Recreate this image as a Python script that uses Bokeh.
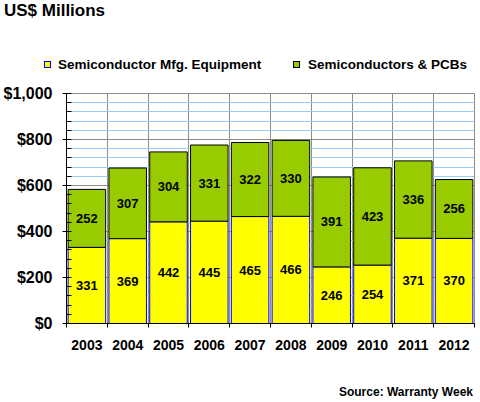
from bokeh.plotting import figure
from bokeh.models import (FixedTicker, NumeralTickFormatter, ColumnDataSource, Div)
from bokeh.layouts import column
from bokeh.core.properties import value
from bokeh.embed import file_html
from bokeh.resources import INLINE

# ---- data ----
years = ["2003", "2004", "2005", "2006", "2007", "2008", "2009", "2010", "2011", "2012"]
equipment = [331, 369, 442, 445, 465, 466, 246, 254, 371, 370]
semis_pcbs = [252, 307, 304, 331, 322, 330, 391, 423, 336, 256]
y_ticks = [0, 200, 400, 600, 800, 1000]
y_minor = [v for v in range(0, 1001, 40) if v % 200 != 0]
series_names = ["Semiconductor Mfg. Equipment", "Semiconductors & PCBs"]
title_text = "US$ Millions"
source_text = "Source: Warranty Week"

FONT = "Liberation Sans"
YELLOW = "#FFFF00"
GREEN = "#99CC00"
GRID_GRAY = "#8C8C8C"
GRID_BLUE = "#99CCFF"

n = len(years)
xs = [i + 0.5 for i in range(n)]
totals = [a + b for a, b in zip(equipment, semis_pcbs)]
src = ColumnDataSource(dict(
    x=xs, eq=equipment, se=semis_pcbs, tot=totals,
    eq_mid=[a / 2 for a in equipment],
    se_mid=[a + b / 2 for a, b in zip(equipment, semis_pcbs)],
    eq_lbl=[str(a) for a in equipment],
    se_lbl=[str(b) for b in semis_pcbs],
))

W = 480
HEAD_H = 80          # header div (title + legend)
FOOT_H = 42          # footer div (source)
FL, FR = 63, 474     # frame left/right
TOP_PAD = 93 - HEAD_H
FRAME_H = 230
BOT_PAD = 402 - FOOT_H - HEAD_H - TOP_PAD - FRAME_H
FIG_H = TOP_PAD + FRAME_H + BOT_PAD

p = figure(width=W, height=FIG_H, x_range=(0, n), y_range=(0, 1000),
           output_backend="svg", toolbar_location=None,
           min_border_left=FL, min_border_right=W - FR,
           min_border_top=TOP_PAD, min_border_bottom=BOT_PAD)
p.background_fill_color = "white"
p.border_fill_color = "white"
p.outline_line_color = GRID_GRAY

r1 = p.vbar(x="x", bottom=0, top="eq", width=0.92, fill_color=YELLOW,
            line_color="#0000FF", line_width=1, source=src)
r2 = p.vbar(x="x", bottom="eq", top="tot", width=0.92, fill_color=GREEN,
            line_color="black", line_width=1, source=src)

for col, lbl in (("eq_mid", "eq_lbl"), ("se_mid", "se_lbl")):
    p.text(x="x", y=col, text=lbl, source=src, text_align="center",
           text_baseline="middle", text_font=value(FONT),
           text_font_style="bold", text_font_size="13px", text_color="black")

# x axis
p.xaxis.ticker = FixedTicker(ticks=xs, minor_ticks=list(range(n + 1)))
p.xaxis.major_label_overrides = {x: y for x, y in zip(xs, years)}
p.xaxis.major_tick_line_color = None
p.xaxis.major_tick_out = 0
p.xaxis.major_tick_in = 0
p.xaxis.minor_tick_line_color = "black"
p.xaxis.minor_tick_out = 4
p.xaxis.minor_tick_in = 0
p.xaxis.axis_line_color = "black"
p.xaxis.major_label_standoff = 12
p.xaxis.major_label_text_font = FONT
p.xaxis.major_label_text_font_style = "bold"
p.xaxis.major_label_text_font_size = "14px"
p.xaxis.major_label_text_color = "black"

# y axis
p.yaxis.ticker = FixedTicker(ticks=y_ticks, minor_ticks=y_minor)
p.yaxis.formatter = NumeralTickFormatter(format="$0,0")
p.yaxis.major_tick_out = 4
p.yaxis.major_tick_in = 5
p.yaxis.minor_tick_out = 0
p.yaxis.minor_tick_in = 5
p.yaxis.major_tick_line_color = "black"
p.yaxis.minor_tick_line_color = "black"
p.yaxis.axis_line_color = "black"
p.yaxis.major_label_standoff = 10
p.yaxis.major_label_text_font = FONT
p.yaxis.major_label_text_font_style = "bold"
p.yaxis.major_label_text_font_size = "16px"
p.yaxis.major_label_text_color = "black"

# grids
p.xgrid.ticker = FixedTicker(ticks=list(range(n + 1)))
p.xgrid.grid_line_color = GRID_GRAY
p.ygrid.ticker = FixedTicker(ticks=y_ticks, minor_ticks=y_minor)
p.ygrid.grid_line_color = GRID_GRAY
p.ygrid.minor_grid_line_color = GRID_BLUE

# header: title + legend
base = ("position:absolute;font-family:'Liberation Sans';font-weight:bold;"
        "color:black;white-space:nowrap;")
legend_specs = [(series_names[0], YELLOW, "#0000FF", 44, 58),
                (series_names[1], GREEN, "#000000", 293, 308)]
head_html = (f"<div style='position:relative;width:{W}px;height:{HEAD_H}px;'>"
             f"<div style=\"{base}left:4px;top:1px;font-size:17px;line-height:20px;\">{title_text}</div>")
for name, fill, edge, sq_x, tx_x in legend_specs:
    head_html += (f"<div style='position:absolute;left:{sq_x}px;top:61px;width:7px;height:7px;"
                  f"background:{fill};border:1px solid {edge};'></div>"
                  f"<div style=\"{base}left:{tx_x}px;top:57px;font-size:13.5px;line-height:16px;\">"
                  f"{name.replace('&', '&amp;')}</div>")
head_html += "</div>"
head = Div(text=head_html, width=W, height=HEAD_H, margin=0)

foot_html = (f"<div style='position:relative;width:{W}px;height:{FOOT_H}px;'>"
             f"<div style=\"{base}right:7px;top:{385 - (402 - FOOT_H)}px;font-size:12px;"
             f"line-height:15px;\">{source_text}</div></div>")
foot = Div(text=foot_html, width=W, height=FOOT_H, margin=0)

layout = column(head, p, foot, spacing=0)
open("out.html", "w").write(file_html(layout, INLINE))
